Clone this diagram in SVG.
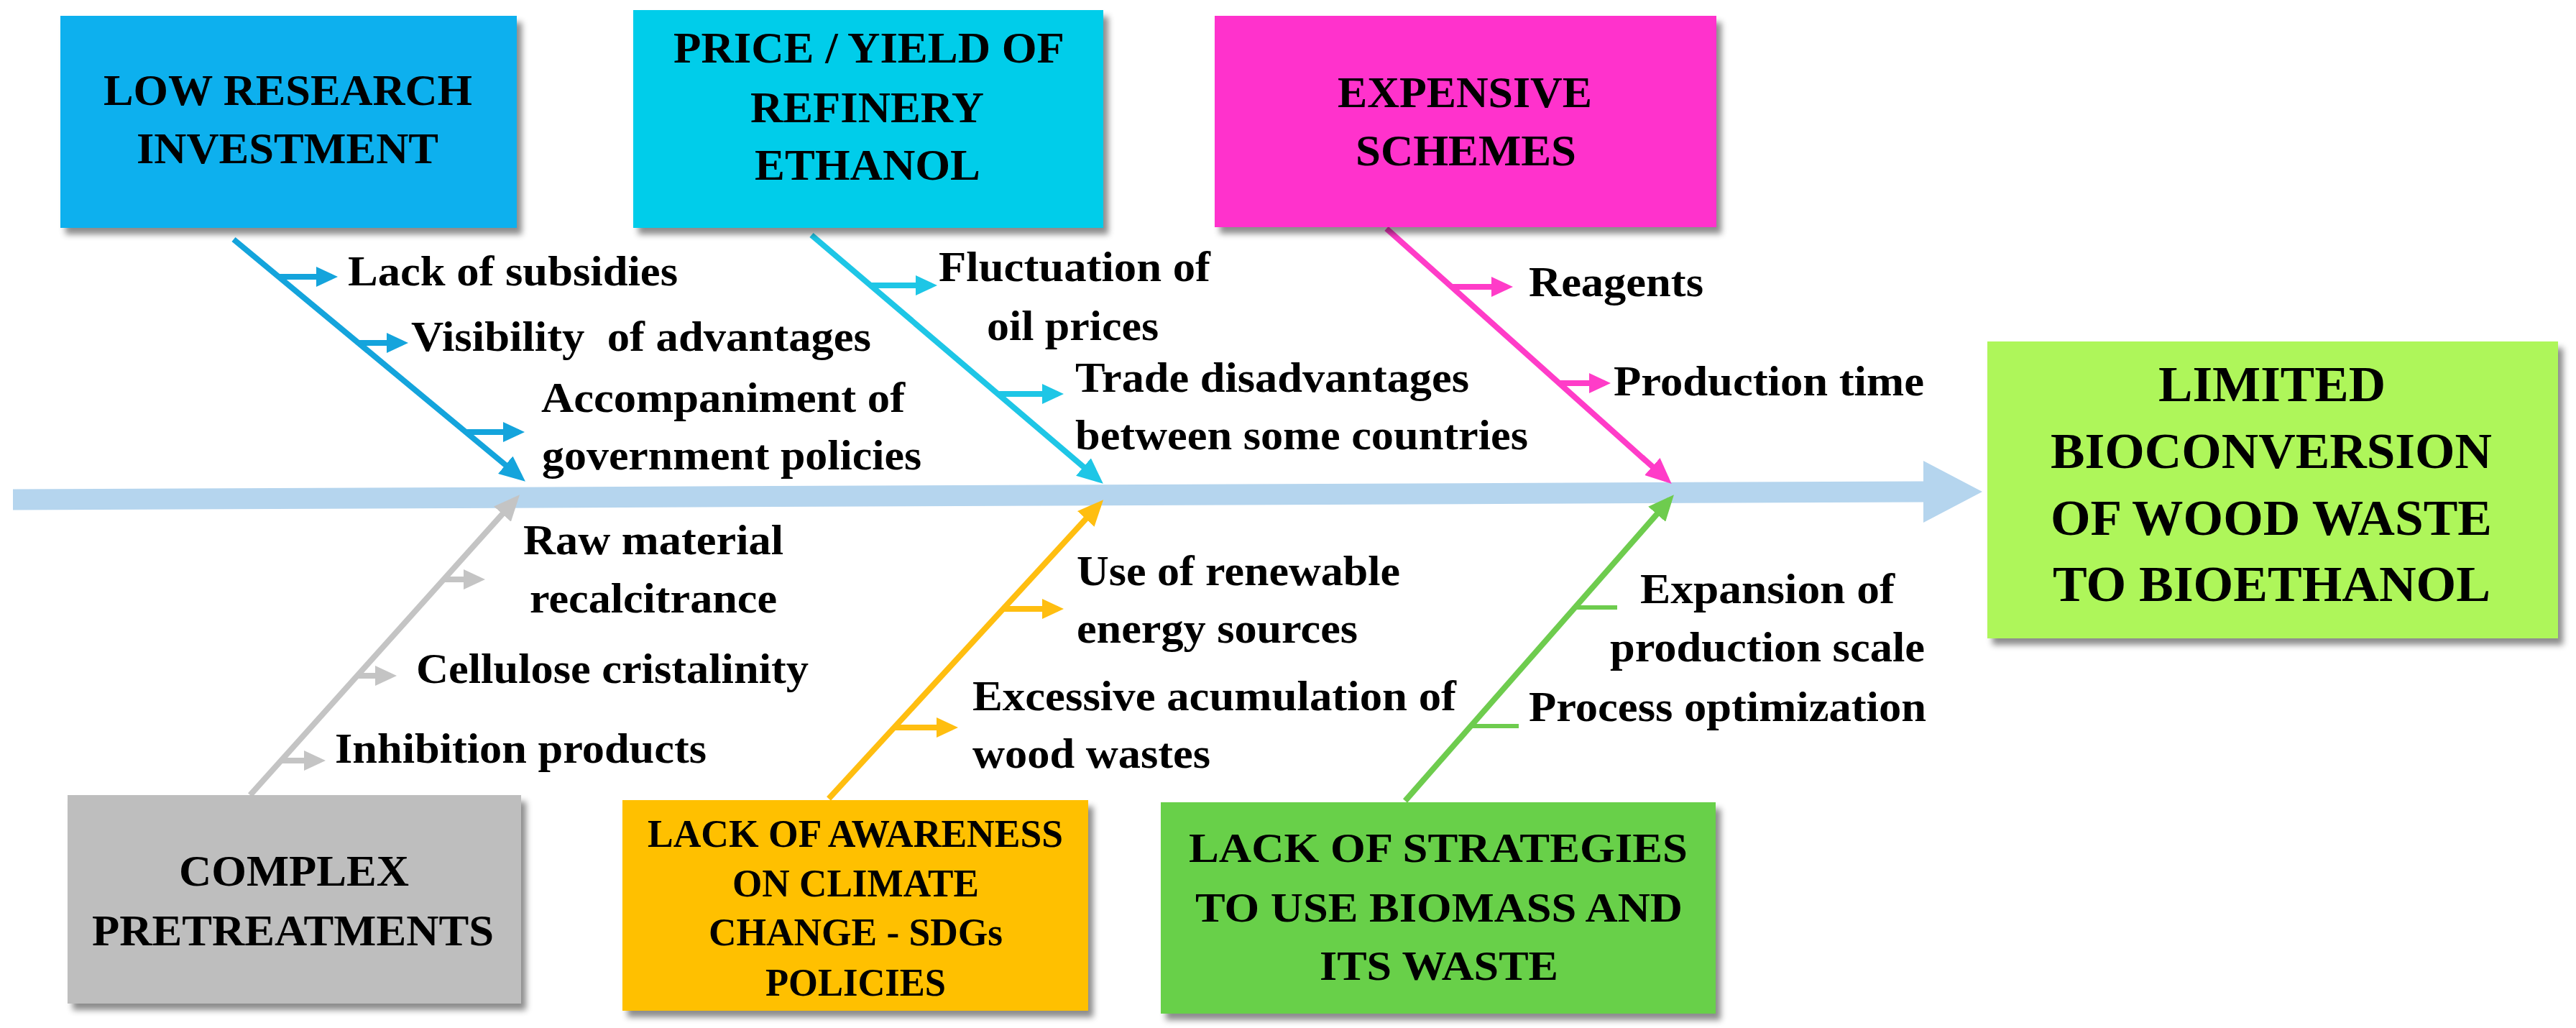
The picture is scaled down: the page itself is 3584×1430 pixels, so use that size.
<svg xmlns="http://www.w3.org/2000/svg" width="3584" height="1430" viewBox="0 0 3584 1430">
<defs>
<filter id="sh" x="-10%" y="-10%" width="125%" height="130%">
<feDropShadow dx="7" dy="9" stdDeviation="4" flood-color="#000" flood-opacity="0.45"/>
</filter>
<marker id="hb" markerUnits="userSpaceOnUse" markerWidth="36" markerHeight="32" refX="27" refY="16" orient="auto"><path d="M0,0 L36,16 L0,32 z" fill="#14A4DC"/></marker>
<marker id="hc" markerUnits="userSpaceOnUse" markerWidth="36" markerHeight="32" refX="27" refY="16" orient="auto"><path d="M0,0 L36,16 L0,32 z" fill="#1EC6E6"/></marker>
<marker id="hp" markerUnits="userSpaceOnUse" markerWidth="36" markerHeight="32" refX="27" refY="16" orient="auto"><path d="M0,0 L36,16 L0,32 z" fill="#FF3CC8"/></marker>
<marker id="hg" markerUnits="userSpaceOnUse" markerWidth="36" markerHeight="32" refX="27" refY="16" orient="auto"><path d="M0,0 L36,16 L0,32 z" fill="#C4C4C4"/></marker>
<marker id="ho" markerUnits="userSpaceOnUse" markerWidth="36" markerHeight="32" refX="27" refY="16" orient="auto"><path d="M0,0 L36,16 L0,32 z" fill="#FFBE10"/></marker>
<marker id="hn" markerUnits="userSpaceOnUse" markerWidth="36" markerHeight="32" refX="27" refY="16" orient="auto"><path d="M0,0 L36,16 L0,32 z" fill="#6ECC4E"/></marker>
<marker id="sb" markerUnits="userSpaceOnUse" markerWidth="30" markerHeight="28" refX="22" refY="14" orient="auto"><path d="M0,0 L30,14 L0,28 z" fill="#14A4DC"/></marker>
<marker id="sc" markerUnits="userSpaceOnUse" markerWidth="30" markerHeight="28" refX="22" refY="14" orient="auto"><path d="M0,0 L30,14 L0,28 z" fill="#1EC6E6"/></marker>
<marker id="sp" markerUnits="userSpaceOnUse" markerWidth="30" markerHeight="28" refX="22" refY="14" orient="auto"><path d="M0,0 L30,14 L0,28 z" fill="#FF3CC8"/></marker>
<marker id="sg" markerUnits="userSpaceOnUse" markerWidth="30" markerHeight="28" refX="22" refY="14" orient="auto"><path d="M0,0 L30,14 L0,28 z" fill="#C4C4C4"/></marker>
<marker id="so" markerUnits="userSpaceOnUse" markerWidth="30" markerHeight="28" refX="22" refY="14" orient="auto"><path d="M0,0 L30,14 L0,28 z" fill="#FFBE10"/></marker>
</defs>
<style>
text{font-family:'Liberation Serif','Times New Roman',serif;font-weight:700;fill:#000;white-space:pre}
.t{font-size:61px}
.tr{font-size:70px}
.to{font-size:54px}
.tg{font-size:57px}
.l{font-size:60px}
.box{filter:url(#sh)}
.bone{fill:none;stroke-width:8;stroke-linecap:butt}
.sub{fill:none;stroke-width:8}
.b{stroke:#14A4DC}.c{stroke:#1EC6E6}.p{stroke:#FF3CC8}.g{stroke:#C4C4C4}.o{stroke:#FFBE10}.n{stroke:#6ECC4E}
</style>
<rect width="3584" height="1430" fill="#fff"/>

<g id="connectors">
<polygon id="spine" points="18,680.5 2676,669.5 2676,641 2758,684 2676,727 2676,698.5 18,709.5" fill="#B5D5EE"/>
<line class="bone b" x1="325" y1="333" x2="724" y2="664" marker-end="url(#hb)"/>
<line class="bone c" x1="1129" y1="327" x2="1528" y2="667" marker-end="url(#hc)"/>
<line class="bone p" x1="1929" y1="318" x2="2319" y2="667" marker-end="url(#hp)"/>
<line class="bone g" x1="348" y1="1106" x2="717" y2="695" marker-end="url(#hg)"/>
<line class="bone o" x1="1153" y1="1111" x2="1529" y2="702" marker-end="url(#ho)"/>
<line class="bone n" x1="1955" y1="1114" x2="2323" y2="695" marker-end="url(#hn)"/>

<line class="sub b" x1="388" y1="385" x2="462" y2="385" marker-end="url(#sb)"/>
<line class="sub b" x1="499" y1="477" x2="560" y2="477" marker-end="url(#sb)"/>
<line class="sub b" x1="649" y1="601" x2="722" y2="601" marker-end="url(#sb)"/>
<line class="sub c" x1="1211" y1="397" x2="1296" y2="397" marker-end="url(#sc)"/>
<line class="sub c" x1="1388" y1="548" x2="1472" y2="548" marker-end="url(#sc)"/>
<line class="sub p" x1="2021" y1="399" x2="2097" y2="399" marker-end="url(#sp)"/>
<line class="sub p" x1="2169" y1="533" x2="2233" y2="533" marker-end="url(#sp)"/>
<line class="sub g" x1="617" y1="806" x2="667" y2="806" marker-end="url(#sg)"/>
<line class="sub g" x1="497" y1="940" x2="544" y2="940" marker-end="url(#sg)"/>
<line class="sub g" x1="391" y1="1058" x2="445" y2="1058" marker-end="url(#sg)"/>
<line class="sub o" x1="1395" y1="847" x2="1472" y2="847" marker-end="url(#so)"/>
<line class="sub o" x1="1244" y1="1012" x2="1325" y2="1012" marker-end="url(#so)"/>
<line class="n" x1="2191" y1="845" x2="2250" y2="845" stroke-width="6"/>
<line class="n" x1="2046" y1="1010" x2="2113" y2="1010" stroke-width="6"/>
</g>

<g id="labels">
<text class="l" x="484" y="397" textLength="459" lengthAdjust="spacingAndGlyphs">Lack of subsidies</text>
<text class="l" x="572" y="488" textLength="640" lengthAdjust="spacingAndGlyphs">Visibility  of advantages</text>
<text class="l" x="753" y="573" textLength="506" lengthAdjust="spacingAndGlyphs">Accompaniment of</text>
<text class="l" x="754" y="653" textLength="528" lengthAdjust="spacingAndGlyphs">government policies</text>
<text class="l" x="1306" y="391" textLength="378" lengthAdjust="spacingAndGlyphs">Fluctuation of</text>
<text class="l" x="1373" y="473" textLength="239" lengthAdjust="spacingAndGlyphs">oil prices</text>
<text class="l" x="1496" y="545" textLength="548" lengthAdjust="spacingAndGlyphs">Trade disadvantages</text>
<text class="l" x="1496" y="625" textLength="630" lengthAdjust="spacingAndGlyphs">between some countries</text>
<text class="l" x="2127" y="412" textLength="243" lengthAdjust="spacingAndGlyphs">Reagents</text>
<text class="l" x="2245" y="550" textLength="432" lengthAdjust="spacingAndGlyphs">Production time</text>
<text class="l" x="728" y="771" textLength="362" lengthAdjust="spacingAndGlyphs">Raw material</text>
<text class="l" x="737" y="852" textLength="344" lengthAdjust="spacingAndGlyphs">recalcitrance</text>
<text class="l" x="579" y="950" textLength="546" lengthAdjust="spacingAndGlyphs">Cellulose cristalinity</text>
<text class="l" x="466" y="1061" textLength="517" lengthAdjust="spacingAndGlyphs">Inhibition products</text>
<text class="l" x="1498" y="814" textLength="450" lengthAdjust="spacingAndGlyphs">Use of renewable</text>
<text class="l" x="1498" y="894" textLength="391" lengthAdjust="spacingAndGlyphs">energy sources</text>
<text class="l" x="1353" y="988" textLength="673" lengthAdjust="spacingAndGlyphs">Excessive acumulation of</text>
<text class="l" x="1353" y="1068" textLength="331" lengthAdjust="spacingAndGlyphs">wood wastes</text>
<text class="l" x="2282" y="839" textLength="354" lengthAdjust="spacingAndGlyphs">Expansion of</text>
<text class="l" x="2240" y="920" textLength="438" lengthAdjust="spacingAndGlyphs">production scale</text>
<text class="l" x="2127" y="1003" textLength="553" lengthAdjust="spacingAndGlyphs">Process optimization</text>
</g>

<g id="node-low-research">
<rect class="box" x="84" y="22" width="635" height="295" fill="#0BB0EE"/>
<text class="t" x="144" y="146" textLength="513" lengthAdjust="spacingAndGlyphs">LOW RESEARCH</text>
<text class="t" x="190" y="227" textLength="420" lengthAdjust="spacingAndGlyphs">INVESTMENT</text>
</g>
<g id="node-price-yield">
<rect class="box" x="881" y="14" width="654" height="303" fill="#00CDEA"/>
<text class="t" x="937" y="87" textLength="544" lengthAdjust="spacingAndGlyphs">PRICE / YIELD OF</text>
<text class="t" x="1044" y="170" textLength="325" lengthAdjust="spacingAndGlyphs">REFINERY</text>
<text class="t" x="1050" y="250" textLength="314" lengthAdjust="spacingAndGlyphs">ETHANOL</text>
</g>
<g id="node-expensive">
<rect class="box" x="1690" y="22" width="698" height="294" fill="#FF33CC"/>
<text class="t" x="1861" y="149" textLength="354" lengthAdjust="spacingAndGlyphs">EXPENSIVE</text>
<text class="t" x="1886" y="230" textLength="307" lengthAdjust="spacingAndGlyphs">SCHEMES</text>
</g>
<g id="node-result">
<rect class="box" x="2765" y="475" width="794" height="413" fill="#AEF65A"/>
<text class="tr" x="3003" y="558" textLength="316" lengthAdjust="spacingAndGlyphs">LIMITED</text>
<text class="tr" x="2853" y="651" textLength="614" lengthAdjust="spacingAndGlyphs">BIOCONVERSION</text>
<text class="tr" x="2853" y="744" textLength="614" lengthAdjust="spacingAndGlyphs">OF WOOD WASTE</text>
<text class="tr" x="2856" y="836" textLength="609" lengthAdjust="spacingAndGlyphs">TO BIOETHANOL</text>
</g>
<g id="node-complex">
<rect class="box" x="94" y="1106" width="631" height="290" fill="#BEBEBE"/>
<text class="t" x="249" y="1232" textLength="320" lengthAdjust="spacingAndGlyphs">COMPLEX</text>
<text class="t" x="128" y="1315" textLength="559" lengthAdjust="spacingAndGlyphs">PRETREATMENTS</text>
</g>
<g id="node-awareness">
<rect class="box" x="866" y="1113" width="648" height="293" fill="#FFC000"/>
<text class="to" x="901" y="1178" textLength="578" lengthAdjust="spacingAndGlyphs">LACK OF AWARENESS</text>
<text class="to" x="1019" y="1247" textLength="343" lengthAdjust="spacingAndGlyphs">ON CLIMATE</text>
<text class="to" x="986" y="1315" textLength="409" lengthAdjust="spacingAndGlyphs">CHANGE - SDGs</text>
<text class="to" x="1065" y="1385" textLength="251" lengthAdjust="spacingAndGlyphs">POLICIES</text>
</g>
<g id="node-strategies">
<rect class="box" x="1615" y="1116" width="772" height="294" fill="#68D04A"/>
<text class="tg" x="1654" y="1199" textLength="694" lengthAdjust="spacingAndGlyphs">LACK OF STRATEGIES</text>
<text class="tg" x="1663" y="1282" textLength="678" lengthAdjust="spacingAndGlyphs">TO USE BIOMASS AND</text>
<text class="tg" x="1836" y="1363" textLength="332" lengthAdjust="spacingAndGlyphs">ITS WASTE</text>
</g>
</svg>
